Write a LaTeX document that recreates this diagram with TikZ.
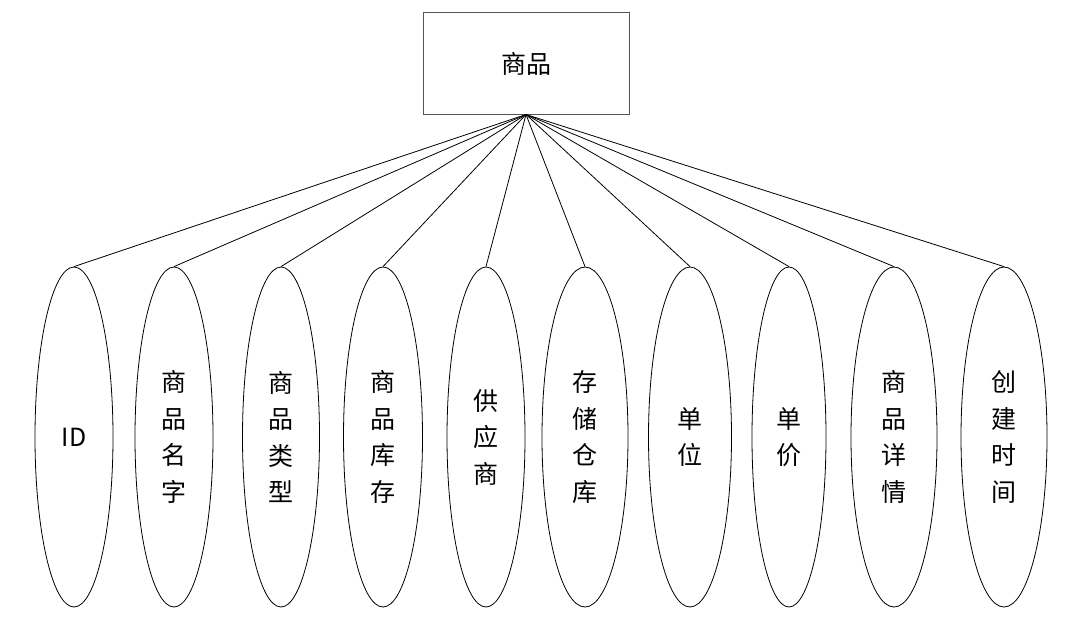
\documentclass[tikz,border=0pt]{standalone}
\usepackage{fontspec}
\setmainfont{Noto Sans CJK SC}
\usetikzlibrary{shapes.geometric,positioning}
\definecolor{Ink}{HTML}{000000}
\definecolor{Frame}{HTML}{555555}
\tikzset{
  entity/.style={rectangle,draw=Frame,line width=1pt,fill=white,minimum width=206pt,minimum height=101pt,inner sep=0pt,font=\fontsize{25}{30}\selectfont},
  attr/.style={ellipse,draw=Ink,line width=.8pt,fill=white,minimum height=340pt,inner sep=0pt,align=center,font=\fontsize{25}{36.5}\selectfont},
  link/.style={draw=Ink,line width=.8pt}
}
\begin{document}
\begin{tikzpicture}[x=1pt,y=-1pt]
        \useasboundingbox (0,0) rectangle (1076,626);
        \node[entity] (goods) at (526,63.5) {商品};

        \node[attr,minimum width=78pt] (id) at (74,437) {ID};
        \node[attr,minimum width=78pt] (name) at (174,437) {商\\品\\名\\字};
        \node[attr,minimum width=77pt] (type) at (281,437) {商\\品\\类\\型};
        \node[attr,minimum width=79pt] (stock) at (383,437) {商\\品\\库\\存};
        \node[attr,minimum width=78pt] (supplier) at (486,437) {供\\应\\商};
        \node[attr,minimum width=86pt] (store) at (585,437) {存\\储\\仓\\库};
        \node[attr,minimum width=83pt] (unit) at (690,437) {单\\位};
        \node[attr,minimum width=74pt] (price) at (789,437) {单\\价};
        \node[attr,minimum width=86pt] (detail) at (894,437) {商\\品\\详\\情};
        \node[attr,minimum width=86pt] (ctime) at (1004,437) {创\\建\\时\\间};

        \draw[link] (goods.south)--(id.north);
        \draw[link] (goods.south)--(name.north);
        \draw[link] (goods.south)--(type.north);
        \draw[link] (goods.south)--(stock.north);
        \draw[link] (goods.south)--(supplier.north);
        \draw[link] (goods.south)--(store.north);
        \draw[link] (goods.south)--(unit.north);
        \draw[link] (goods.south)--(price.north);
        \draw[link] (goods.south)--(detail.north);
        \draw[link] (goods.south)--(ctime.north);
      \end{tikzpicture}
\end{document}
